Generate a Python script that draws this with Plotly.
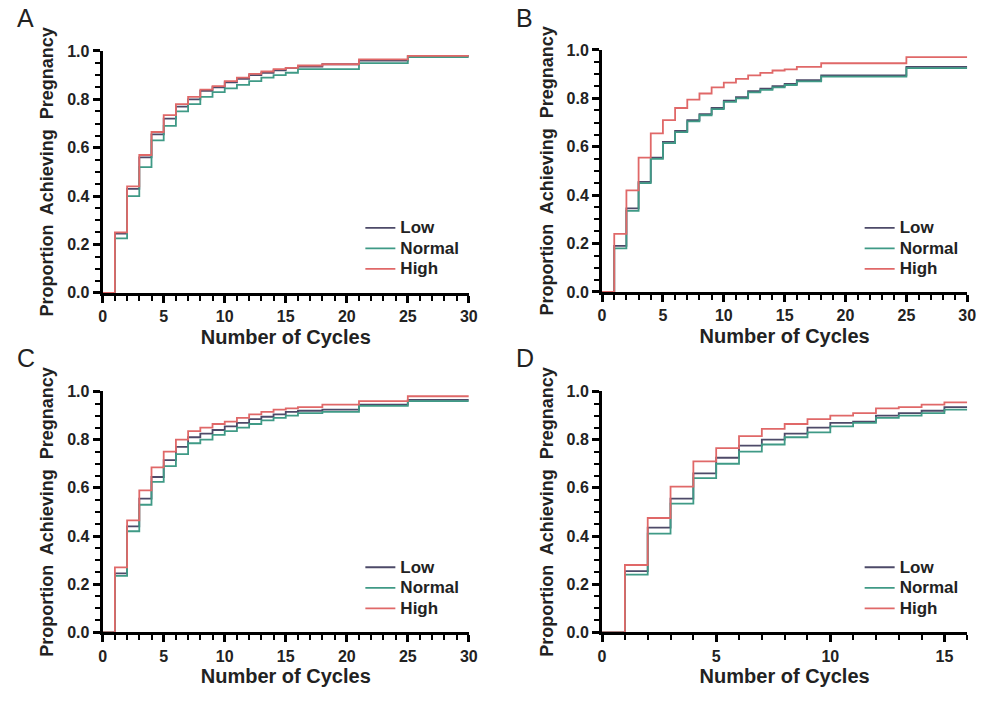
import plotly.graph_objects as go

# Cycle numbers at which the cumulative proportion steps up
cycles_a = [1, 2, 3, 4, 5, 6, 7, 8, 9, 10, 11, 12, 13, 14, 15, 16, 18, 21, 25]
low_a = [0.245, 0.43, 0.56, 0.655, 0.72, 0.77, 0.80, 0.835, 0.85, 0.87, 0.885,
         0.90, 0.91, 0.92, 0.93, 0.935, 0.945, 0.96, 0.98]
normal_a = [0.225, 0.40, 0.52, 0.63, 0.69, 0.75, 0.78, 0.81, 0.83, 0.845, 0.86,
            0.875, 0.89, 0.90, 0.91, 0.925, 0.925, 0.95, 0.975]
high_a = [0.25, 0.44, 0.57, 0.665, 0.735, 0.78, 0.81, 0.84, 0.855, 0.875, 0.89,
          0.905, 0.915, 0.925, 0.93, 0.94, 0.945, 0.965, 0.98]

cycles_b = [1, 2, 3, 4, 5, 6, 7, 8, 9, 10, 11, 12, 13, 14, 15, 16, 18, 25]
low_b = [0.19, 0.345, 0.455, 0.555, 0.62, 0.665, 0.71, 0.735, 0.76, 0.79, 0.805,
         0.83, 0.84, 0.85, 0.86, 0.875, 0.895, 0.93]
normal_b = [0.18, 0.335, 0.45, 0.55, 0.615, 0.66, 0.705, 0.73, 0.755, 0.785, 0.80,
            0.825, 0.835, 0.845, 0.855, 0.87, 0.89, 0.925]
high_b = [0.24, 0.42, 0.555, 0.655, 0.71, 0.76, 0.795, 0.82, 0.845, 0.865, 0.88,
          0.895, 0.905, 0.915, 0.92, 0.93, 0.945, 0.97]

cycles_c = [1, 2, 3, 4, 5, 6, 7, 8, 9, 10, 11, 12, 13, 14, 15, 16, 18, 21, 25]
low_c = [0.245, 0.44, 0.555, 0.645, 0.715, 0.77, 0.81, 0.825, 0.84, 0.855, 0.87,
         0.885, 0.895, 0.905, 0.915, 0.92, 0.925, 0.945, 0.965]
normal_c = [0.235, 0.42, 0.53, 0.625, 0.69, 0.74, 0.785, 0.80, 0.82, 0.835, 0.85,
            0.865, 0.88, 0.89, 0.90, 0.91, 0.915, 0.94, 0.96]
high_c = [0.27, 0.465, 0.59, 0.685, 0.75, 0.80, 0.835, 0.85, 0.865, 0.875, 0.89,
          0.905, 0.915, 0.925, 0.93, 0.935, 0.945, 0.96, 0.98]

cycles_d = [1, 2, 3, 4, 5, 6, 7, 8, 9, 10, 11, 12, 13, 14, 15]
low_d = [0.255, 0.435, 0.555, 0.66, 0.725, 0.775, 0.80, 0.825, 0.85, 0.87, 0.875,
         0.90, 0.91, 0.92, 0.935]
normal_d = [0.24, 0.41, 0.535, 0.64, 0.70, 0.75, 0.78, 0.81, 0.83, 0.855, 0.87,
            0.89, 0.90, 0.91, 0.925]
high_d = [0.28, 0.475, 0.605, 0.71, 0.765, 0.815, 0.845, 0.865, 0.885, 0.90, 0.91,
          0.93, 0.935, 0.945, 0.955]

group_names = ["Low", "Normal", "High"]
group_colors = ["#4d4a68", "#3f9a86", "#e06868"]

panels = [
    # letter, cycles, series, x max, axis suffix, domains, legend position
    ("A", cycles_a, [low_a, normal_a, high_a], 30, "", [0.1008, 0.4748], [0.5835, 0.9372], (0.364, 0.701)),
    ("B", cycles_b, [low_b, normal_b, high_b], 30, "2", [0.6109, 0.9839], [0.5849, 0.9387], (0.874, 0.701)),
    ("C", cycles_c, [low_c, normal_c, high_c], 30, "3", [0.1008, 0.4748], [0.0870, 0.4394], (0.364, 0.2047)),
    ("D", cycles_d, [low_d, normal_d, high_d], 16, "4", [0.6109, 0.9839], [0.0870, 0.4394], (0.874, 0.2047)),
]

FONT = "Liberation Sans, Arial, Helvetica, sans-serif"
INK = "#222"

fig = go.Figure()
layout = dict(
    width=992, height=701,
    margin=dict(l=0, r=0, t=0, b=0),
    paper_bgcolor="white", plot_bgcolor="white",
    showlegend=True,
    font=dict(family=FONT, color="black"),
    annotations=[],
)

for letter, cycles, series, xmax, sfx, xdom, ydom, legpos in panels:
    legend_name = "legend" + sfx
    for name, color, vals in zip(group_names, group_colors, series):
        xs = [0] + cycles + [xmax]
        ys = [0] + vals + [vals[-1]]
        fig.add_trace(go.Scatter(
            x=xs, y=ys, mode="lines",
            name="<span style='font-size:17px'>%s</span>" % name,
            line=dict(color=color, width=1.8, shape="hv"),
            xaxis="x" + sfx, yaxis="y" + sfx,
            legend=legend_name, showlegend=True,
        ))

    axis_common = dict(
        showline=True, linewidth=3, linecolor="black",
        ticks="outside", ticklen=7, tickwidth=2.5, tickcolor="black",
        showgrid=False, zeroline=False,
        tickfont=dict(family=FONT, size=16, weight="bold", color=INK),
    )
    layout["xaxis" + sfx] = dict(
        axis_common, domain=xdom, anchor="y" + sfx, range=[0, xmax],
        dtick=5, tick0=0,
        minor=dict(dtick=1, tick0=0, ticks="outside", ticklen=5, tickwidth=2,
                   tickcolor="black", showgrid=False),
        title=dict(text="Number of Cycles", standoff=6,
                   font=dict(family=FONT, size=20, weight="bold", color=INK)),
    )
    layout["yaxis" + sfx] = dict(
        axis_common, domain=ydom, anchor="x" + sfx, range=[0, 1.0],
        dtick=0.2, tick0=0, tickformat=".1f",
        minor=dict(dtick=0.05, tick0=0, ticks="outside", ticklen=5, tickwidth=2,
                   tickcolor="black", showgrid=False),
        title=dict(text="Proportion\u00a0 Achieving\u00a0 Pregnancy", standoff=9,
                   font=dict(family=FONT, size=18, weight="bold", color=INK)),
    )
    layout[legend_name] = dict(
        x=legpos[0], y=legpos[1], xanchor="left", yanchor="top",
        bgcolor="rgba(0,0,0,0)", borderwidth=0,
        itemwidth=30, tracegroupgap=0, traceorder="normal",
        font=dict(family=FONT, size=13.5, weight="bold", color=INK),
    )
    # panel letter
    lx = 0.022 if letter in ("A", "C") else 0.532
    ly = 0.986 if letter in ("A", "B") else 0.489
    layout["annotations"].append(dict(
        text=letter, x=lx, y=ly, xref="paper", yref="paper",
        xanchor="center", yanchor="middle", showarrow=False,
        font=dict(family=FONT, size=25, color=INK),
    ))

fig.update_layout(**layout)
fig.write_html("out.html")
